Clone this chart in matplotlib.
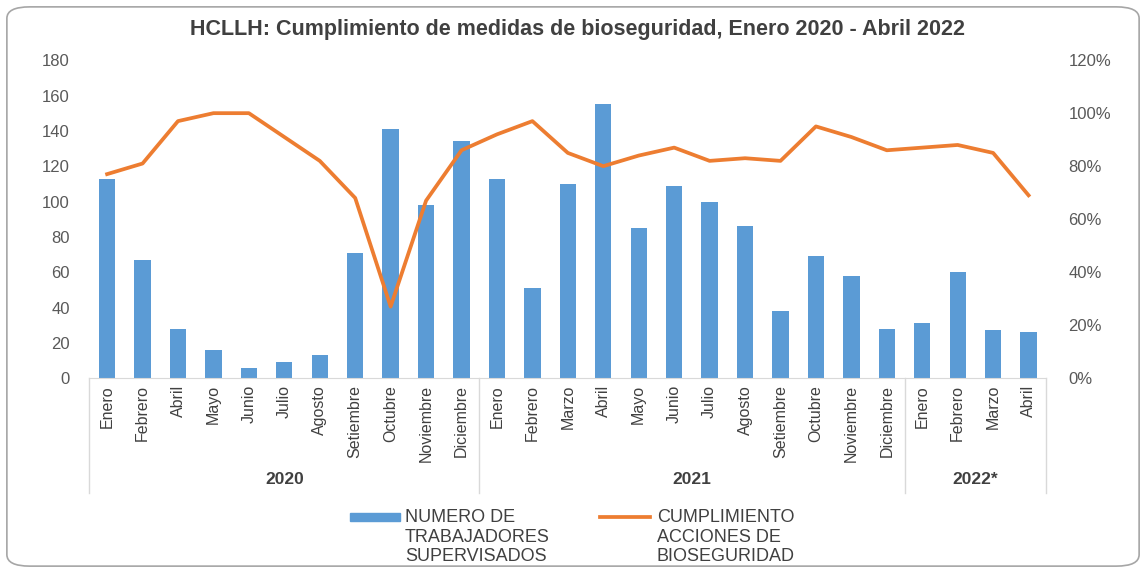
import matplotlib.pyplot as plt
from matplotlib.patches import FancyBboxPatch, Rectangle
from matplotlib.lines import Line2D
from matplotlib.ticker import PercentFormatter

plt.rcParams['font.family'] = ['Liberation Sans', 'DejaVu Sans']

# datos
meses_2020 = ['Enero', 'Febrero', 'Abril', 'Mayo', 'Junio', 'Julio', 'Agosto',
              'Setiembre', 'Octubre', 'Noviembre', 'Diciembre']
meses_2021 = ['Enero', 'Febrero', 'Marzo', 'Abril', 'Mayo', 'Junio', 'Julio',
              'Agosto', 'Setiembre', 'Octubre', 'Noviembre', 'Diciembre']
meses_2022 = ['Enero', 'Febrero', 'Marzo', 'Abril']
anios = ['2020', '2021', '2022*']

trabajadores = [113, 67, 28, 16, 6, 9, 13, 71, 141, 98, 134,
                113, 51, 110, 155, 85, 109, 100, 86, 38, 69, 58, 28,
                31, 60, 27, 26]
cumplimiento = [77, 81, 97, 100, 100, 91, 82, 68, 27, 67, 86,
                92, 97, 85, 80, 84, 87, 82, 83, 82, 95, 91, 86,
                87, 88, 85, 69]

etiquetas = meses_2020 + meses_2021 + meses_2022
grupos = [len(meses_2020), len(meses_2021), len(meses_2022)]
x = list(range(len(etiquetas)))

AZUL = '#5B9BD5'
NARANJA = '#ED7D31'
GRIS = '#595959'
OSCURO = '#404040'
LINEA = '#D9D9D9'

fig = plt.figure(figsize=(11.46, 5.73), dpi=100)
ax = fig.add_axes([0.078, 0.340, 0.835, 0.555])
ax2 = ax.twinx()

ax.bar(x, trabajadores, width=0.46, color=AZUL, zorder=2)
ax2.plot(x, cumplimiento, color=NARANJA, lw=2.7, solid_joinstyle='round', zorder=3)

ax.set_xlim(-0.5, len(x) - 0.5)
ax.set_ylim(0, 180)
ax.set_yticks(range(0, 181, 20))
ax2.set_ylim(0, 120)
ax2.set_yticks(range(0, 121, 20))
ax2.yaxis.set_major_formatter(PercentFormatter(decimals=0))

for a in (ax, ax2):
    for s in a.spines.values():
        s.set_visible(False)
    a.tick_params(axis='y', length=0, labelsize=12, labelcolor=GRIS)
ax.spines['bottom'].set_visible(True)
ax.spines['bottom'].set_color(LINEA)
ax.tick_params(axis='y', pad=14)
ax2.tick_params(axis='y', pad=16)
ax.set_zorder(ax2.get_zorder() - 1)
ax.patch.set_visible(False)

ax.set_xticks(x)
ax.set_xticklabels(etiquetas, rotation=90, fontsize=11.5, color=OSCURO)
ax.tick_params(axis='x', length=0, pad=5)

# eje de categorias de dos niveles
trans = ax.get_xaxis_transform()
inicio = -0.5
ax.plot([inicio, inicio], [0, -0.36], transform=trans, color=LINEA, lw=1, clip_on=False)
for anio, n in zip(anios, grupos):
    fin = inicio + n
    ax.plot([fin, fin], [0, -0.36], transform=trans, color=LINEA, lw=1, clip_on=False)
    ax.text((inicio + fin) / 2, -0.32, anio, transform=trans, ha='center', va='center',
            fontsize=12.5, fontweight='bold', color=OSCURO)
    inicio = fin

fig.text(0.504, 0.948, 'HCLLH: Cumplimiento de medidas de bioseguridad, Enero 2020 - Abril 2022',
         ha='center', va='center', fontsize=15.5, fontweight='bold', color=OSCURO)

# leyenda
fig.patches.append(Rectangle((350 / 1146, 1 - 521 / 573), 50 / 1146, 8 / 573,
                             transform=fig.transFigure, color=AZUL))
fig.lines.append(Line2D([600 / 1146, 650 / 1146], [1 - 517 / 573] * 2,
                        transform=fig.transFigure, color=NARANJA, lw=2.7))
fig.text(405 / 1146, 1 - 509 / 573, 'NUMERO DE\nTRABAJADORES\nSUPERVISADOS', ha='left', va='top',
         fontsize=13, color=OSCURO, linespacing=1.2)
fig.text(657 / 1146, 1 - 509 / 573, 'CUMPLIMIENTO\nACCIONES DE\nBIOSEGURIDAD', ha='left', va='top',
         fontsize=13, color=OSCURO, linespacing=1.2)

# marco redondeado
fig.patches.append(FancyBboxPatch((0.006, 0.012), 0.988, 0.976,
                                  boxstyle='round,pad=0,rounding_size=0.02',
                                  transform=fig.transFigure, fill=False,
                                  edgecolor='#A6A6A6', lw=1.2))

fig.savefig('out.png', dpi=100)
